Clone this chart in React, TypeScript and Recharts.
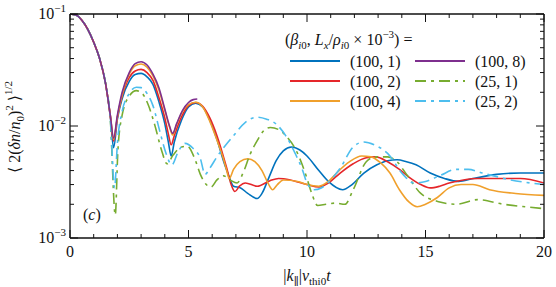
import React from 'react';
import { LineChart, Line, XAxis, YAxis } from 'recharts';

type Pt = [number, number];

// (beta_i0, Lx/rho_i0 x 1e-3) = (100, 1)
const blue100x1: Pt[] = [
  [0, 0.1], [0.25, 0.098], [0.5, 0.088], [0.75, 0.073], [1, 0.056], [1.25, 0.04], [1.5, 0.024], [1.7, 0.0122],
  [1.84, 0.0064], [2.0, 0.0115], [2.2, 0.0175], [2.5, 0.025], [2.75, 0.0288], [3.0, 0.0295], [3.25, 0.0275],
  [3.5, 0.0235], [3.75, 0.0165], [4.0, 0.0105], [4.15, 0.0072], [4.27, 0.0054], [4.4, 0.0072], [4.7, 0.0112],
  [5.0, 0.0148], [5.3, 0.016], [5.6, 0.0148], [5.9, 0.0113], [6.2, 0.0076], [6.46, 0.005], [6.7, 0.0036],
  [6.9, 0.0029], [7.2, 0.0028], [7.5, 0.0025], [7.9, 0.00225], [8.1, 0.0025], [8.4, 0.0035], [8.7, 0.0049],
  [9.0, 0.006], [9.35, 0.0065], [9.7, 0.0061], [10.0, 0.0054], [10.5, 0.004], [10.9, 0.0032], [11.5, 0.0027],
  [11.9, 0.003], [12.4, 0.0038], [12.95, 0.0045], [13.4, 0.0049], [13.8, 0.005], [14.2, 0.0048], [14.6, 0.0045],
  [15.2, 0.0038], [15.8, 0.0034], [16.4, 0.0032], [17.0, 0.0034], [18.0, 0.0037], [19.0, 0.0038], [20, 0.0038],
];

// (100, 2)
const red100x2: Pt[] = [
  [0, 0.1], [0.25, 0.098], [0.5, 0.088], [0.75, 0.073], [1, 0.056], [1.25, 0.04], [1.5, 0.024], [1.7, 0.0124],
  [1.84, 0.0073], [2.0, 0.012], [2.2, 0.0185], [2.5, 0.027], [2.75, 0.031], [3.0, 0.032], [3.25, 0.03],
  [3.5, 0.0255], [3.75, 0.018], [4.0, 0.0118], [4.15, 0.0085], [4.27, 0.0068], [4.4, 0.0082], [4.7, 0.012],
  [5.0, 0.0152], [5.3, 0.0162], [5.6, 0.015], [5.9, 0.0118], [6.2, 0.0082], [6.6, 0.0043], [6.8, 0.003],
  [6.96, 0.0026], [7.15, 0.0029], [7.4, 0.0031], [7.9, 0.0029], [8.44, 0.00325], [8.8, 0.0034], [9.3, 0.0033],
  [10.0, 0.003], [10.5, 0.00285], [10.9, 0.0031], [11.4, 0.0038], [11.95, 0.0046], [12.5, 0.0052], [12.9, 0.0053],
  [13.4, 0.0048], [13.9, 0.0041], [14.3, 0.0035], [14.8, 0.003], [15.2, 0.0028], [15.6, 0.0029], [16.0, 0.0031],
  [16.6, 0.0033], [17.2, 0.0034], [18.0, 0.0034], [19.0, 0.0034], [20, 0.0031],
];

// (100, 4)
const orange100x4: Pt[] = [
  [0, 0.1], [0.25, 0.098], [0.5, 0.088], [0.75, 0.073], [1, 0.056], [1.25, 0.04], [1.5, 0.024], [1.7, 0.0125],
  [1.84, 0.0076], [2.0, 0.012], [2.2, 0.019], [2.5, 0.029], [2.75, 0.0345], [3.0, 0.0358], [3.25, 0.0335],
  [3.5, 0.028], [3.75, 0.021], [4.0, 0.0138], [4.2, 0.0098], [4.33, 0.0083], [4.5, 0.0103], [4.75, 0.0135],
  [5.0, 0.0155], [5.3, 0.0163], [5.6, 0.0148], [5.9, 0.011], [6.2, 0.0075], [6.46, 0.0052], [6.6, 0.0041],
  [6.72, 0.0034], [6.9, 0.0041], [7.17, 0.0048], [7.5, 0.0051], [7.8, 0.0048], [8.1, 0.004], [8.35, 0.0031],
  [8.55, 0.0027], [8.75, 0.003], [9.0, 0.0033], [9.6, 0.0032], [10.0, 0.003], [10.5, 0.0029], [10.9, 0.0032],
  [11.3, 0.0039], [11.8, 0.0048], [12.3, 0.0054], [12.7, 0.0053], [13.1, 0.0047], [13.5, 0.0038], [13.9, 0.0027],
  [14.3, 0.0021], [14.65, 0.0019], [15.0, 0.002], [15.5, 0.0023], [16.0, 0.0028], [16.5, 0.003], [17.0, 0.003],
  [17.7, 0.0027], [18.8, 0.0025], [20, 0.0024],
];

// (100, 8)
const purple100x8: Pt[] = [
  [0, 0.1], [0.25, 0.098], [0.5, 0.088], [0.75, 0.073], [1, 0.056], [1.25, 0.04], [1.5, 0.024], [1.7, 0.0125],
  [1.84, 0.0078], [2.0, 0.0125], [2.2, 0.02], [2.5, 0.03], [2.75, 0.036], [3.0, 0.0375], [3.25, 0.035],
  [3.5, 0.029], [3.75, 0.022], [4.0, 0.0142], [4.2, 0.01], [4.33, 0.0086], [4.5, 0.0105], [4.75, 0.0138],
  [5.0, 0.0162], [5.2, 0.0172], [5.37, 0.0174],
];

// (25, 1)
const green25x1: Pt[] = [
  [0, 0.1], [0.25, 0.098], [0.5, 0.088], [0.75, 0.073], [1, 0.056], [1.25, 0.04], [1.5, 0.024], [1.7, 0.0115],
  [1.91, 0.0016], [2.02, 0.006], [2.2, 0.0125], [2.5, 0.0185], [2.8, 0.0207], [3.05, 0.0195], [3.3, 0.0155],
  [3.6, 0.0098], [3.85, 0.0062], [4.1, 0.0046], [4.35, 0.0055], [4.65, 0.0064], [4.95, 0.0066], [5.25, 0.0052],
  [5.5, 0.0037], [5.75, 0.003], [5.95, 0.00285], [6.2, 0.0033], [6.46, 0.0036], [6.75, 0.0033], [7.05, 0.0031],
  [7.3, 0.0038], [7.6, 0.0056], [7.9, 0.0074], [8.2, 0.0092], [8.45, 0.0097], [8.8, 0.0093], [9.15, 0.008],
  [9.5, 0.0063], [9.8, 0.0045], [10.0, 0.0034], [10.2, 0.0025], [10.45, 0.00195], [10.8, 0.002], [11.2, 0.00205],
  [11.6, 0.002], [11.95, 0.0027], [12.5, 0.0048], [12.9, 0.0053], [13.4, 0.0053], [13.8, 0.0048], [14.2, 0.0037],
  [14.8, 0.0025], [15.6, 0.0021], [16.3, 0.002], [17.2, 0.0022], [18.3, 0.002], [19.2, 0.0019], [20, 0.00183],
];

// (25, 2)
const cyan25x2: Pt[] = [
  [0, 0.1], [0.25, 0.098], [0.5, 0.088], [0.75, 0.073], [1, 0.056], [1.25, 0.04], [1.5, 0.024], [1.7, 0.0118],
  [1.88, 0.0028], [2.0, 0.007], [2.2, 0.0135], [2.5, 0.0195], [2.8, 0.0222], [3.0, 0.022], [3.25, 0.0195],
  [3.5, 0.0152], [3.8, 0.0088], [4.05, 0.0057], [4.3, 0.0045], [4.55, 0.0058], [4.85, 0.007], [5.2, 0.0063],
  [5.49, 0.0052], [5.7, 0.0037], [5.9, 0.0042], [6.2, 0.0053], [6.9, 0.0082], [7.4, 0.0108], [7.9, 0.012],
  [8.3, 0.0115], [8.7, 0.0104], [9.1, 0.0082], [9.5, 0.0057], [9.8, 0.0041], [10.0, 0.0031], [10.3, 0.0027],
  [10.6, 0.0028], [11.0, 0.0033], [11.4, 0.0042], [11.95, 0.0065], [12.4, 0.0072], [12.9, 0.0067], [13.4, 0.0057],
  [14.05, 0.0037], [14.5, 0.0031], [15.0, 0.0032], [15.6, 0.0036], [16.3, 0.0041], [16.8, 0.0041], [17.4, 0.0038],
  [18.6, 0.0033], [20, 0.003],
];

const xTicks = Array.from({ length: 21 }, (_, i) => i);
const xMajor = [0, 5, 10, 15, 20];
const yTicks = [
  0.001, 0.002, 0.003, 0.004, 0.005, 0.006, 0.007, 0.008, 0.009,
  0.01, 0.02, 0.03, 0.04, 0.05, 0.06, 0.07, 0.08, 0.09, 0.1,
];
const yMajor = [0.001, 0.01, 0.1];
const yExp = ['−3', '−2', '−1'];

const toRows = (pts: Pt[]) => pts.map(([t, v]) => ({ t, v }));

const FONT = "'Liberation Serif', 'DejaVu Serif', serif";
const INK = '#111';

const majorIdx = (v: number) => yMajor.findIndex((m) => Math.abs(m - v) < 1e-9);

const LeftTick = (props: any) => {
  const { x, y, payload } = props;
  const i = majorIdx(payload.value);
  return (
    <g>
      <line x1={x} x2={x + (i >= 0 ? 8 : 4)} y1={y} y2={y} stroke={INK} strokeWidth={1} />
      {i >= 0 && (
        <text x={x - 4} y={y + 5} textAnchor="end" fontFamily={FONT} fontSize={16} fill={INK}>
          10<tspan dy={-7} fontSize={11}>{yExp[i]}</tspan>
        </text>
      )}
    </g>
  );
};

const RightTick = (props: any) => {
  const { x, y, payload } = props;
  const i = majorIdx(payload.value);
  return <line x1={x} x2={x - (i >= 0 ? 8 : 4)} y1={y} y2={y} stroke={INK} strokeWidth={1} />;
};

const BottomTick = (props: any) => {
  const { x, y, payload } = props;
  const major = xMajor.includes(payload.value);
  return (
    <g>
      <line x1={x} x2={x} y1={y} y2={y - (major ? 8 : 4)} stroke={INK} strokeWidth={1} />
      {major && (
        <text x={x} y={y + 19} textAnchor="middle" fontFamily={FONT} fontSize={16} fill={INK}>
          {payload.value}
        </text>
      )}
    </g>
  );
};

const TopTick = (props: any) => {
  const { x, y, payload } = props;
  const major = xMajor.includes(payload.value);
  return <line x1={x} x2={x} y1={y} y2={y + (major ? 8 : 4)} stroke={INK} strokeWidth={1} />;
};

const series = [
  { name: '(100, 1)', data: blue100x1, color: '#0072BD', dash: undefined },
  { name: '(100, 2)', data: red100x2, color: '#E5262A', dash: undefined },
  { name: '(100, 4)', data: orange100x4, color: '#F0A02C', dash: undefined },
  { name: '(100, 8)', data: purple100x8, color: '#7E2F8E', dash: undefined },
  { name: '(25, 1)', data: green25x1, color: '#77AC30', dash: '11 5 3 5' },
  { name: '(25, 2)', data: cyan25x2, color: '#4DBEEE', dash: '11 5 3 5' },
];
// purple drawn last so it sits on top of the shared early decay
const drawOrder = [0, 1, 2, 4, 5, 3];

const Legend = () => {
  const cols = [290, 415];
  const rows = [61, 81, 101];
  return (
    <g fontFamily={FONT} fontSize={16} fill={INK}>
      <text x={285} y={45}>
        (<tspan fontStyle="italic">β</tspan>
        <tspan dy={4} fontSize={11} fontStyle="italic">i</tspan>
        <tspan fontSize={11}>0</tspan>
        <tspan dy={-4}>, </tspan>
        <tspan fontStyle="italic">L</tspan>
        <tspan dy={4} fontSize={11} fontStyle="italic">x</tspan>
        <tspan dy={-4}>/</tspan>
        <tspan fontStyle="italic">ρ</tspan>
        <tspan dy={4} fontSize={11} fontStyle="italic">i</tspan>
        <tspan fontSize={11}>0</tspan>
        <tspan dy={-4}> × 10</tspan>
        <tspan dy={-7} fontSize={11}>−3</tspan>
        <tspan dy={7}>) =</tspan>
      </text>
      {series.map((s, k) => {
        const cx = cols[Math.floor(k / 3)];
        const cy = rows[k % 3];
        return (
          <g key={s.name}>
            <line x1={cx} x2={cx + 50} y1={cy} y2={cy} stroke={s.color} strokeWidth={1.8} strokeDasharray={s.dash} />
            <text x={cx + 60} y={cy + 5.5}>{s.name}</text>
          </g>
        );
      })}
    </g>
  );
};

export default function App() {
  return (
    <div style={{ position: 'absolute', left: 0, top: 0, width: 556, height: 287, background: '#fff' }}>
      <LineChart width={556} height={287} margin={{ top: 13, right: 11, bottom: 48, left: 69 }}>
        <XAxis
          xAxisId="b" type="number" dataKey="t" domain={[0, 20]} ticks={xTicks} interval={0}
          height={1} tickSize={0} tickMargin={0} tick={<BottomTick />}
          axisLine={{ stroke: INK, strokeWidth: 1.3 }} allowDataOverflow
        />
        <XAxis
          xAxisId="top" orientation="top" type="number" dataKey="t" domain={[0, 20]} ticks={xTicks} interval={0}
          height={1} tickSize={0} tickMargin={0} tick={<TopTick />}
          axisLine={{ stroke: INK, strokeWidth: 1.3 }} allowDataOverflow
        />
        <YAxis
          yAxisId="l" type="number" scale="log" dataKey="v" domain={[0.001, 0.1]} ticks={yTicks} interval={0}
          width={1} tickSize={0} tickMargin={0} tick={<LeftTick />}
          axisLine={{ stroke: INK, strokeWidth: 1.3 }} allowDataOverflow
        />
        <YAxis
          yAxisId="r" orientation="right" type="number" scale="log" dataKey="v" domain={[0.001, 0.1]} ticks={yTicks} interval={0}
          width={1} tickSize={0} tickMargin={0} tick={<RightTick />}
          axisLine={{ stroke: INK, strokeWidth: 1.3 }} allowDataOverflow
        />
        {drawOrder.map((k) => {
          const s = series[k];
          return (
            <Line
              key={s.name} xAxisId="b" yAxisId="l" data={toRows(s.data)} dataKey="v" type="monotone"
              stroke={s.color} strokeWidth={1.6} strokeDasharray={s.dash} dot={false} isAnimationActive={false}
            />
          );
        })}
        <Line
          xAxisId="top" yAxisId="r" data={toRows(blue100x1)} dataKey="v" stroke="none"
          dot={false} isAnimationActive={false} legendType="none"
        />
        <Legend />
        <text x={83} y={220} fontFamily={FONT} fontSize={16} fill={INK}>
          (<tspan fontStyle="italic">c</tspan>)
        </text>
        <text x={307} y={281} textAnchor="middle" fontFamily={FONT} fontSize={16} fill={INK}>
          |<tspan fontStyle="italic">k</tspan>
          <tspan dy={4} fontSize={11}>∥</tspan>
          <tspan dy={-4}>|</tspan>
          <tspan fontStyle="italic">v</tspan>
          <tspan dy={4} fontSize={11}>thi0</tspan>
          <tspan dy={-4} fontStyle="italic">t</tspan>
        </text>
        <text x={20} y={127} textAnchor="middle" transform="rotate(-90 20 127)" fontFamily={FONT} fontSize={16} fill={INK}>
          ⟨ 2(<tspan fontStyle="italic">δn</tspan>/<tspan fontStyle="italic">n</tspan>
          <tspan dy={4} fontSize={11}>0</tspan>
          <tspan dy={-4}>)</tspan>
          <tspan dy={-7} fontSize={11}>2</tspan>
          <tspan dy={7}> ⟩</tspan>
          <tspan dy={-8} fontSize={11}>1/2</tspan>
        </text>
      </LineChart>
    </div>
  );
}
